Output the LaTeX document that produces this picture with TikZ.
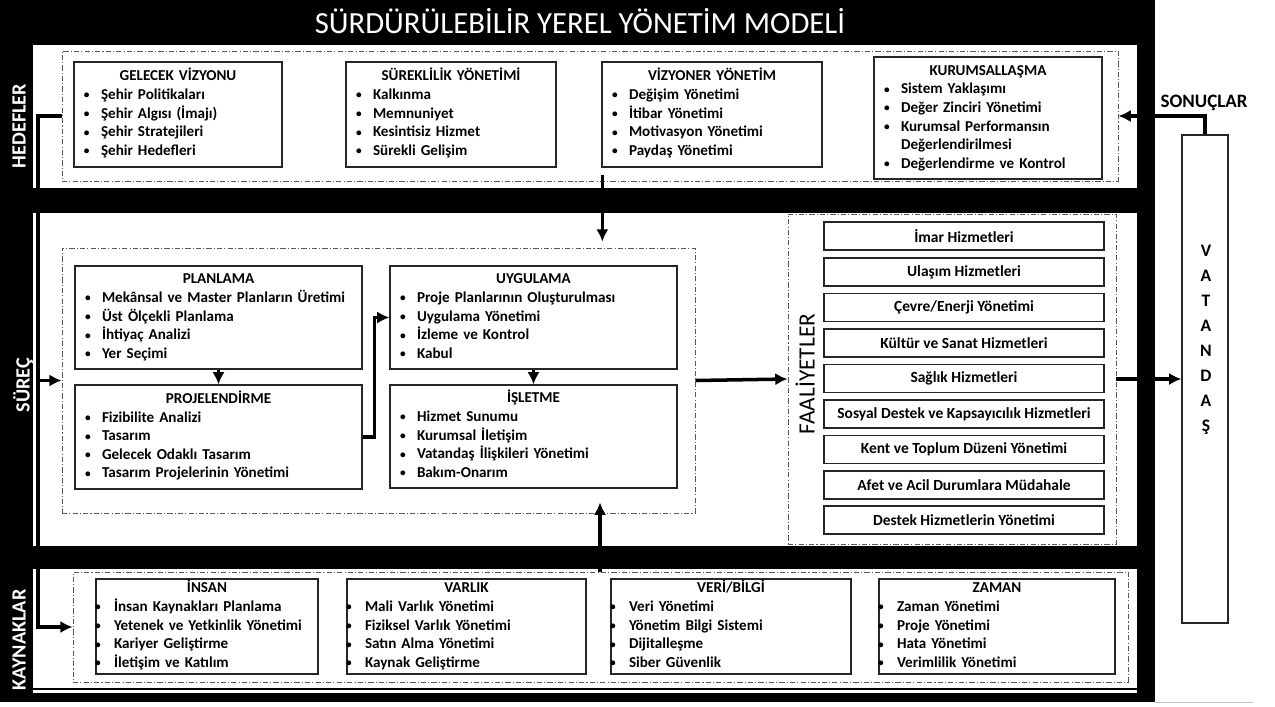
\documentclass[tikz,border=0pt]{standalone}
\usepackage{fontspec}
\usepackage{graphicx}
\setmainfont{Carlito}
\usetikzlibrary{arrows.meta,calc}

\newcommand{\dotmark}{\raisebox{0.4pt}{\scalebox{0.75}{\textbullet}}}
\newcommand{\blt}[1]{\strut\makebox[3.4mm][l]{\dotmark}\mbox{#1}}
\newcommand{\bltk}[1]{\strut\makebox[3.4mm][l]{\hspace*{-0.4mm}\dotmark}\mbox{#1}}
\newcommand{\boxtitle}[1]{\strut\makebox[\hsize][c]{#1}}

\begin{document}
\begin{tikzpicture}[x=0.2mm, y=-0.2mm,
    dashframe/.style={draw=black!65, dash pattern=on 3pt off 1.2pt on 0.6pt off 1.2pt, line width=0.5pt, inner sep=0},
    listbox/.style={draw=black!85, line width=0.75pt, fill=white, align=left, inner xsep=2mm, inner ysep=0,
        font=\bfseries\fontsize{8.6}{10.6}\selectfont},
    reslist/.style={listbox, inner xsep=0.2mm, minimum height=19mm},
    servbox/.style={draw=black!85, line width=0.75pt, fill=white, minimum width=56mm, minimum height=5.6mm, inner sep=0,
        font=\bfseries\fontsize{8.8}{9}\selectfont},
    sidelabel/.style={white, rotate=90, font=\bfseries\fontsize{11.5}{13}\selectfont},
    flow/.style={line width=2pt, -{Latex[length=7pt,width=7pt]}}]
    \useasboundingbox (0,0) rectangle (1275,706);

    % frame and panels
    \fill[black] (0,0) rectangle (1155,702);
    \fill[white] (33,45) rectangle (1137,188);
    \fill[white] (33,213) rectangle (1137,546);
    \fill[white] (33,569) rectangle (1137,693);
    \draw[line width=0.6pt] (33,689) -- (1137,689);
    \draw[black!25] (1155,702) -- (1253,702);

    \node[white, font=\fontsize{17.5}{20}\selectfont] (title) at (580,21) {SÜRDÜRÜLEBİLİR YEREL YÖNETİM MODELİ};
    \node[sidelabel] (hedeflbl) at (19,126) {HEDEFLER};
    \node[sidelabel] (sureclbl) at (23,385) {SÜREÇ};
    \node[sidelabel] (kaynaklbl) at (19,640) {KAYNAKLAR};

    % hedefler
    \node[dashframe, minimum width=211.2mm, minimum height=26mm] (hedef) at (590,116) {};
    \node[listbox, text width=37.6mm, minimum height=21mm] (gelecek) at (178,114.5)
        {\boxtitle{GELECEK VİZYONU}\\ \blt{Şehir Politikaları}\\ \blt{Şehir Algısı (İmajı)}\\ \blt{Şehir Stratejileri}\\ \blt{Şehir Hedefleri}};
    \node[listbox, text width=38mm, minimum height=21mm] (sureklilik) at (451,114.5)
        {\boxtitle{SÜREKLİLİK YÖNETİMİ}\\ \blt{Kalkınma}\\ \blt{Memnuniyet}\\ \blt{Kesintisiz Hizmet}\\ \blt{Sürekli Gelişim}};
    \node[listbox, text width=40mm, minimum height=21mm] (vizyoner) at (712,114.5)
        {\boxtitle{VİZYONER YÖNETİM}\\ \blt{Değişim Yönetimi}\\ \blt{İtibar Yönetimi}\\ \blt{Motivasyon Yönetimi}\\ \blt{Paydaş Yönetimi}};
    \node[listbox, text width=41.6mm, minimum height=24.4mm] (kurumsal) at (988,118)
        {\boxtitle{KURUMSALLAŞMA}\\ \blt{Sistem Yaklaşımı}\\ \blt{Değer Zinciri Yönetimi}\\ \blt{Kurumsal Performansın}\\
         \strut\hspace*{3.4mm}Değerlendirilmesi\\ \blt{Değerlendirme ve Kontrol}};

    % surec
    \node[dashframe, minimum width=126.6mm, minimum height=53mm] (surec) at (378.5,380.5) {};
    \node[listbox, text width=53.4mm, minimum height=20.6mm] (planlama) at (218.5,317.5)
        {\boxtitle{PLANLAMA}\\ \blt{Mekânsal ve Master Planların Üretimi}\\ \blt{Üst Ölçekli Planlama}\\ \blt{İhtiyaç Analizi}\\ \blt{Yer Seçimi}};
    \node[listbox, text width=53.4mm, minimum height=20.8mm] (projelendirme) at (218.5,437)
        {\boxtitle{PROJELENDİRME}\\ \blt{Fizibilite Analizi}\\ \blt{Tasarım}\\ \blt{Gelecek Odaklı Tasarım}\\ \blt{Tasarım Projelerinin Yönetimi}};
    \node[listbox, text width=53.4mm, minimum height=20.6mm] (uygulama) at (533.5,317.5)
        {\boxtitle{UYGULAMA}\\ \blt{Proje Planlarının Oluşturulması}\\ \blt{Uygulama Yönetimi}\\ \blt{İzleme ve Kontrol}\\ \blt{Kabul}};
    \node[listbox, text width=53.4mm, minimum height=20.6mm] (isletme) at (533.5,436.5)
        {\boxtitle{İŞLETME}\\ \blt{Hizmet Sunumu}\\ \blt{Kurumsal İletişim}\\ \blt{Vatandaş İlişkileri Yönetimi}\\ \blt{Bakım-Onarım}};

    % faaliyetler
    \node[dashframe, minimum width=65.6mm, minimum height=66mm] (faaliyet) at (952,379) {};
    \node[rotate=90, font=\fontsize{13.3}{15}\selectfont] (faaliyetlbl) at (805,374) {FAALİYETLER};
    \node[servbox] (imar) at (964,236) {İmar Hizmetleri};
    \node[servbox] (ulasim) at (964,272) {Ulaşım Hizmetleri};
    \node[servbox] (cevre) at (964,307.5) {Çevre/Enerji Yönetimi};
    \node[servbox] (kultur) at (964,343) {Kültür ve Sanat Hizmetleri};
    \node[servbox] (saglik) at (964,378.5) {Sağlık Hizmetleri};
    \node[servbox] (sosyal) at (964,414) {Sosyal Destek ve Kapsayıcılık Hizmetleri};
    \node[servbox] (kent) at (964,449.5) {Kent ve Toplum Düzeni Yönetimi};
    \node[servbox] (afet) at (964,485) {Afet ve Acil Durumlara Müdahale};
    \node[servbox] (destek) at (964,520) {Destek Hizmetlerin Yönetimi};

    % kaynaklar
    \node[dashframe, minimum width=211mm, minimum height=22mm] (kaynak) at (600.5,627) {};
    \node[reslist, text width=44mm] (insan) at (207,626.5)
        {\boxtitle{İNSAN}\\ \bltk{İnsan Kaynakları Planlama}\\ \bltk{Yetenek ve Yetkinlik Yönetimi}\\ \bltk{Kariyer Geliştirme}\\ \bltk{İletişim ve Katılım}};
    \node[reslist, text width=47.4mm] (varlik) at (466.5,626.5)
        {\boxtitle{VARLIK}\\ \bltk{Mali Varlık Yönetimi}\\ \bltk{Fiziksel Varlık Yönetimi}\\ \bltk{Satın Alma Yönetimi}\\ \bltk{Kaynak Geliştirme}};
    \node[reslist, text width=47.6mm] (veri) at (731,626.5)
        {\boxtitle{VERİ/BİLGİ}\\ \bltk{Veri Yönetimi}\\ \bltk{Yönetim Bilgi Sistemi}\\ \bltk{Dijitalleşme}\\ \bltk{Siber Güvenlik}};
    \node[reslist, text width=46.8mm] (zaman) at (997,626.5)
        {\boxtitle{ZAMAN}\\ \bltk{Zaman Yönetimi}\\ \bltk{Proje Yönetimi}\\ \bltk{Hata Yönetimi}\\ \bltk{Verimlilik Yönetimi}};

    % vatandas
    \node[draw=black!85, line width=0.75pt, fill=white, minimum width=9.2mm, minimum height=97.6mm] (vatandas) at (1205,379) {};
    \node[align=center, font=\bfseries\fontsize{10}{14.2}\selectfont] (vatandaslbl) at (1206,340) {V\\A\\T\\A\\N\\D\\A\\Ş};
    \node[font=\bfseries\fontsize{10.8}{12}\selectfont] (sonuclbl) at (1204,103) {SONUÇLAR};

    % connectors
    \coordinate (spine) at (38,0);
    \coordinate (downx) at ($(vizyoner.south west)+(1,7)$);
    \coordinate (upx) at (600,0);
    \draw[flow] (hedef.west) -| (spine |- kaynak.west) -- (kaynak.west);
    \draw[flow] (spine |- surec.west) -- (surec.west);
    \draw[flow] (vatandas.north) |- (hedef.east);
    \draw[flow, shorten >=1.2mm] (downx) -- (downx |- surec.north);
    \draw[flow] (upx |- kaynak.north) -- ($(upx |- surec.south)+(0,-11)$);
    \draw[flow] (planlama) -- (projelendirme);
    \draw[flow] (uygulama) -- (isletme);
    \draw[flow] (projelendirme.east) -- ++(12,0) |- (uygulama.west);
    \draw[flow] (surec.east) -- (faaliyet.west);
    \draw[flow] (faaliyet.east) -- (vatandas.west |- faaliyet.east);
\end{tikzpicture}
\end{document}
